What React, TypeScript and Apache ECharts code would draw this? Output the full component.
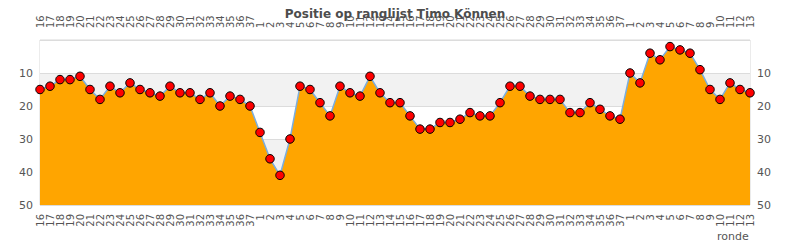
import React, { useEffect, useRef } from "react";
import * as echarts from "echarts";

const chartTitle = "Positie op ranglijst Timo Können";
const xAxisName = "ronde";

const roundLabels = [
  "16", "17", "18", "19", "20", "21", "22", "23", "24", "25", "26", "27", "28", "29", "30", "31", "32", "33", "34", "35", "36", "37",
  "1", "2", "3", "4", "5", "6", "7", "8", "9", "10", "11", "12", "13", "14", "15", "16", "17", "18", "19", "20",
  "21", "22", "23", "24", "25", "26", "27", "28", "29", "30", "31", "32", "33", "34", "35", "36", "37",
  "1", "2", "3", "4", "5", "6", "7", "8", "9", "10", "11", "12", "13",
];

const positions = [
  15, 14, 12, 12, 11, 15, 18, 14, 16, 13, 15, 16, 17, 14, 16, 16, 18, 16, 20, 17, 18, 20,
  28, 36, 41, 30, 14, 15, 19, 23, 14, 16, 17, 11, 16, 19, 19, 23, 27, 27, 25, 25, 24, 22, 23, 23, 19, 14, 14, 17, 18, 18, 18, 22, 22, 19, 21, 23, 24,
  10, 13, 4, 6, 2, 3, 4, 9, 15, 18, 13, 15, 16,
];

const yMin = 0;
const yMax = 50;
const yStep = 10;

export default function App() {
  const ref = useRef<HTMLDivElement>(null);

  useEffect(() => {
    if (!ref.current) return;
    const chart = echarts.init(ref.current, undefined, { renderer: "svg" });
    const font = "DejaVu Sans";
    const xLabel = {
      interval: 0,
      rotate: 90,
      fontSize: 10,
      fontFamily: font,
      color: "#555",
    };
    const yAxisCommon = {
      type: "value" as const,
      inverse: true,
      min: yMin,
      max: yMax,
      interval: yStep,
      axisLine: { show: false },
      axisTick: { show: false },
    };
    chart.setOption({
      animation: false,
      backgroundColor: "#fff",
      title: {
        text: chartTitle,
        left: "center",
        top: 3,
        textStyle: {
          fontSize: 12,
          fontWeight: "bold",
          color: "#4d4d4d",
          fontFamily: font,
        },
      },
      grid: {
        left: 40,
        right: 40,
        top: 40,
        bottom: 45,
        show: true,
        borderColor: "#d8d8d8",
        borderWidth: 1,
        backgroundColor: "transparent",
      },
      xAxis: [
        {
          type: "category",
          data: roundLabels,
          boundaryGap: false,
          position: "bottom",
          axisLine: { show: false },
          axisTick: { show: false },
          splitLine: { show: false },
          axisLabel: { ...xLabel, margin: 9 },
        },
        {
          type: "category",
          data: roundLabels,
          boundaryGap: false,
          position: "top",
          axisLine: { show: false },
          axisTick: { show: false },
          splitLine: { show: false },
          axisLabel: { ...xLabel, margin: 12 },
        },
      ],
      yAxis: [
        {
          ...yAxisCommon,
          position: "left",
          splitLine: { show: true, lineStyle: { color: "#dcdcdc", width: 1 } },
          splitArea: { show: true, areaStyle: { color: ["#ffffff", "#f2f2f2"] } },
          axisLabel: {
            fontSize: 11,
            fontFamily: font,
            color: "#555",
            margin: 7,
            showMinLabel: false,
            formatter: (v: number) => (v === 0 ? "" : String(v)),
          },
        },
        {
          ...yAxisCommon,
          position: "right",
          splitLine: { show: false },
          axisLabel: {
            fontSize: 11,
            fontFamily: font,
            color: "#555",
            margin: 7,
            showMinLabel: false,
            formatter: (v: number) => (v === 0 ? "" : String(v)),
          },
        },
      ],
      graphic: [
        {
          type: "text",
          left: 717,
          top: 231,
          style: {
            text: xAxisName,
            fontSize: 11,
            fontFamily: font,
            fill: "#555",
          },
        },
      ],
      series: [
        {
          type: "line",
          data: positions,
          xAxisIndex: 0,
          yAxisIndex: 0,
          symbol: "circle",
          symbolSize: 8.5,
          itemStyle: { color: "#ff0000", borderColor: "#000", borderWidth: 1 },
          lineStyle: { color: "#7aaee0", width: 1.5 },
          areaStyle: { color: "#ffa500", opacity: 1, origin: "end" },
        },
      ],
    });
    return () => chart.dispose();
  }, []);

  return (
    <div
      ref={ref}
      style={{ position: "fixed", left: 0, top: 0, width: 790, height: 250 }}
    />
  );
}
